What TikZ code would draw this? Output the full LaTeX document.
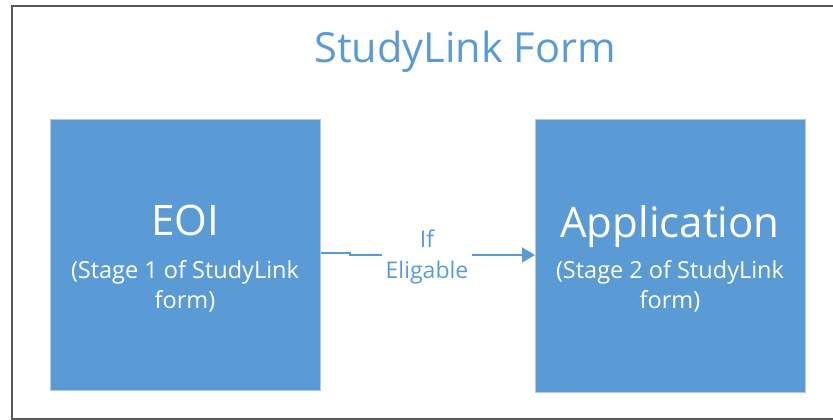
\documentclass[tikz,border=0pt]{standalone}
\usepackage{fontspec}
\setmainfont{Open Sans}
\usetikzlibrary{arrows.meta}
\definecolor{boxblue}{HTML}{5B9BD5}
\definecolor{boxedge}{HTML}{B4C7E7}
\definecolor{frame}{HTML}{595959}
\tikzset{
  stagebox/.style={draw=boxedge, line width=0.8pt, fill=boxblue, minimum width=270pt, minimum height=271pt, inner sep=0pt, anchor=north west},
  bigtxt/.style={text=white, font=\fontsize{42}{42}\selectfont, anchor=base, inner sep=0pt},
  smalltxt/.style={text=white, font=\fontsize{23.5}{30}\selectfont, align=center, anchor=base, inner sep=0pt},
  conn/.style={draw=boxblue, line width=1.6pt},
}
\begin{document}
\begin{tikzpicture}[x=1pt,y=-1pt]
\useasboundingbox (0,0) rectangle (833,420);
\draw[frame, line width=1.5pt] (840,6) -- (12,6) -- (12,419) -- (840,419);
\node[text=boxblue, font=\fontsize{41.5}{42}\selectfont, anchor=base, inner sep=0pt] (title) at (465,63) {StudyLink Form};
\node[stagebox] (eoi) at (50,119) {};
\node[stagebox, minimum width=270pt, minimum height=273pt] (app) at (535,119) {};
\node[bigtxt] (eoit) at (185,235) {EOI};
\node[smalltxt] (eois) at (185,308) {(Stage 1 of StudyLink\\form)};
\node[bigtxt] (appt) at (670,237) {Application};
\node[smalltxt] (apps) at (670,308) {(Stage 2 of StudyLink\\form)};
\node[text=boxblue, font=\fontsize{23}{31}\selectfont, align=center, anchor=base, inner sep=3pt] (cond) at (427,278) {If\\Eligable};
\coordinate (a1) at (350,253);
\draw[conn] (eoi.east |- a1) -- (a1) -- ++(0,2) -- (cond.west |- 0,255);
\draw[conn, -{Triangle[length=13pt,width=15pt]}] (cond.east |- 0,255) -- (app.west |- 0,255);
\end{tikzpicture}
\end{document}
